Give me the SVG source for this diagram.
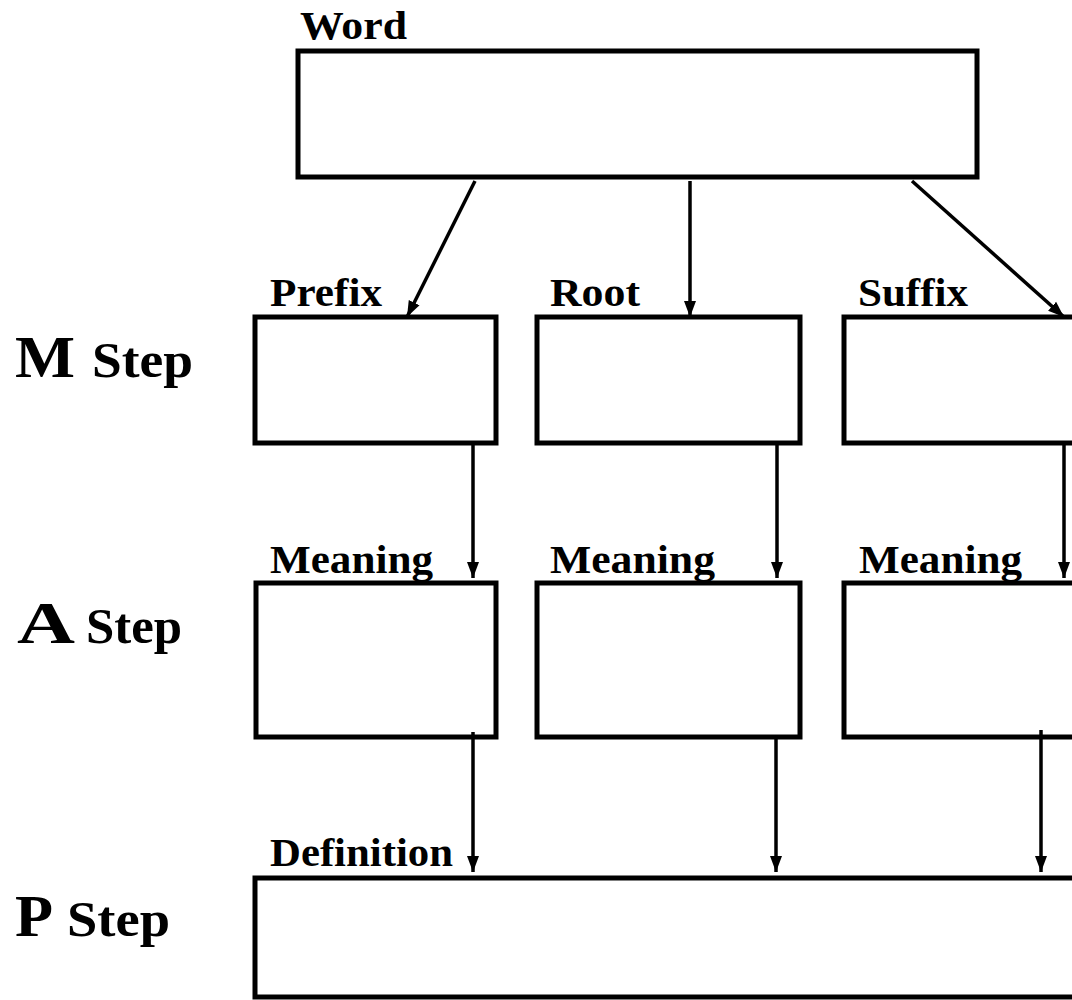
<svg xmlns="http://www.w3.org/2000/svg" width="1072" height="1000" viewBox="0 0 1072 1000">
  <style>
    .box { fill: #fff; stroke: #000; stroke-width: 5; }
    .lbl { font-family: "Liberation Serif", "Times New Roman", serif; font-weight: bold; font-size: 40px; fill: #000; }
    .big { font-family: "Liberation Serif", "Times New Roman", serif; font-weight: bold; fill: #000; }
    .conn { stroke: #000; stroke-width: 3.5; fill: none; marker-end: url(#head); }
  </style>
  <defs>
    <marker id="head" markerUnits="userSpaceOnUse" markerWidth="16" markerHeight="14" viewBox="0 0 16 12" refX="16" refY="6" orient="auto">
      <path d="M0,0 L16,6 L0,12 Z" fill="#000"/>
    </marker>
  </defs>
  <rect width="1072" height="1000" fill="#fff"/>

  <!-- step labels -->
  <g id="step-m">
    <text class="big" x="15" y="377" font-size="60" textLength="60" lengthAdjust="spacingAndGlyphs">M</text>
    <text class="big" x="92" y="377" font-size="50" textLength="101" lengthAdjust="spacingAndGlyphs">Step</text>
  </g>
  <g id="step-a">
    <text class="big" x="17" y="643" font-size="60" textLength="58" lengthAdjust="spacingAndGlyphs">A</text>
    <text class="big" x="86" y="643" font-size="50" textLength="96" lengthAdjust="spacingAndGlyphs">Step</text>
  </g>
  <g id="step-p">
    <text class="big" x="15" y="936" font-size="60" textLength="38" lengthAdjust="spacingAndGlyphs">P</text>
    <text class="big" x="67" y="936" font-size="50" textLength="103" lengthAdjust="spacingAndGlyphs">Step</text>
  </g>

  <!-- word -->
  <g id="word">
    <text class="lbl" x="300" y="39" textLength="107" lengthAdjust="spacingAndGlyphs">Word</text>
    <rect class="box" x="298" y="51" width="679" height="126"/>
  </g>

  <!-- morpheme boxes -->
  <g id="prefix">
    <text class="lbl" x="270" y="306" textLength="112" lengthAdjust="spacingAndGlyphs">Prefix</text>
    <rect class="box" x="255" y="317" width="241" height="126"/>
  </g>
  <g id="root">
    <text class="lbl" x="550" y="306" textLength="90" lengthAdjust="spacingAndGlyphs">Root</text>
    <rect class="box" x="537" y="317" width="263" height="126"/>
  </g>
  <g id="suffix">
    <text class="lbl" x="858" y="306" textLength="110" lengthAdjust="spacingAndGlyphs">Suffix</text>
    <rect class="box" x="844" y="317" width="240" height="126"/>
  </g>

  <!-- meaning boxes -->
  <g id="meaning-prefix">
    <text class="lbl" x="270" y="573" textLength="163" lengthAdjust="spacingAndGlyphs">Meaning</text>
    <rect class="box" x="256" y="583" width="240" height="154"/>
  </g>
  <g id="meaning-root">
    <text class="lbl" x="550" y="573" textLength="165" lengthAdjust="spacingAndGlyphs">Meaning</text>
    <rect class="box" x="537" y="583" width="263" height="154"/>
  </g>
  <g id="meaning-suffix">
    <text class="lbl" x="859" y="573" textLength="163" lengthAdjust="spacingAndGlyphs">Meaning</text>
    <rect class="box" x="844" y="583" width="240" height="154"/>
  </g>

  <!-- definition -->
  <g id="definition">
    <text class="lbl" x="270" y="866" textLength="183" lengthAdjust="spacingAndGlyphs">Definition</text>
    <rect class="box" x="255" y="878" width="830" height="119"/>
  </g>

  <!-- connectors -->
  <g id="connectors">
    <line class="conn" x1="475" y1="181" x2="407" y2="317"/>
    <line class="conn" x1="690" y1="181" x2="690" y2="317"/>
    <line class="conn" x1="912" y1="181" x2="1064" y2="317"/>
    <line class="conn" x1="473" y1="443" x2="473" y2="578"/>
    <line class="conn" x1="777" y1="443" x2="777" y2="578"/>
    <line class="conn" x1="1064" y1="443" x2="1064" y2="578"/>
    <line class="conn" x1="473" y1="732" x2="473" y2="872"/>
    <line class="conn" x1="776" y1="737" x2="776" y2="872"/>
    <line class="conn" x1="1041" y1="730" x2="1041" y2="872"/>
  </g>
</svg>
